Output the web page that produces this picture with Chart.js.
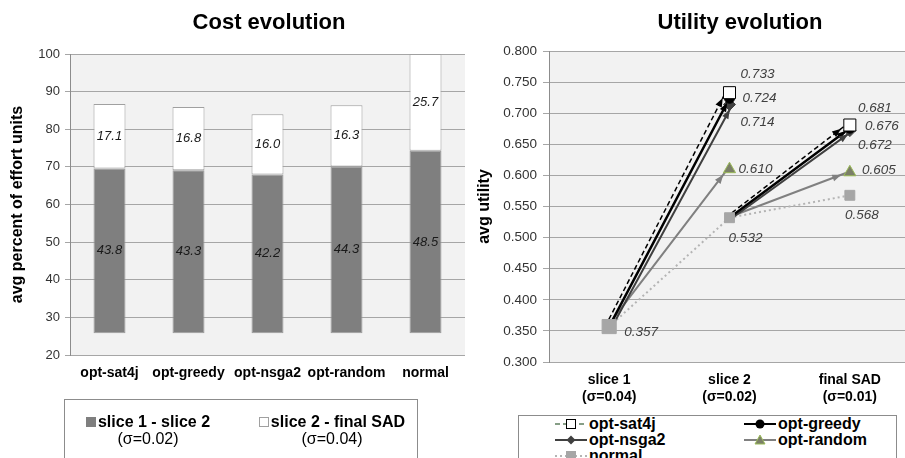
<!DOCTYPE html>
<html>
<head>
<meta charset="utf-8">
<script src="https://cdn.jsdelivr.net/npm/chart.js@4.4.1/dist/chart.umd.min.js"></script>
<style>
    html, body { margin: 0; padding: 0; background: #fff; }
    body { width: 905px; height: 458px; overflow: hidden; position: relative; font-family: "Liberation Sans", Arial, sans-serif; }
    #cost { position: absolute; left: 0; top: 0; }
    #utility { position: absolute; left: 468px; top: 0; }
    .legend { position: absolute; border: 1px solid #8c8c8c; background: #fff; box-sizing: border-box; }
    .cost-item { position: absolute; width: 190px; text-align: center; font-size: 16px; line-height: 17px; color: #000; }
    .cost-item b { white-space: nowrap; }
    .swatch { display: inline-block; width: 10px; height: 10px; margin-right: 2px; box-sizing: border-box; }
    .util-item { position: absolute; height: 16px; font-size: 16px; line-height: 16px; font-weight: bold; color: #000; white-space: nowrap; }
    .util-item svg { vertical-align: top; margin-right: 1px; }
</style>
</head>
<body>
<canvas id="cost" width="468" height="458"></canvas>
<canvas id="utility" width="453" height="458"></canvas>
<div class="legend" id="costLegend" style="left:64px;top:399px;width:354px;height:70px;"></div>
<div class="legend" id="utilityLegend" style="left:518px;top:415px;width:379px;height:60px;"></div>
<script>
// ---- cost chart data ----
const costCategories = ['opt-sat4j', 'opt-greedy', 'opt-nsga2', 'opt-random', 'normal'];
const costBase = 25.8;
const slice1ToSlice2 = [43.8, 43.3, 42.2, 44.3, 48.5];
const slice2ToFinal = [17.1, 16.8, 16.0, 16.3, 25.7];
const costSeries = ['slice 1 - slice 2', 'slice 2 - final SAD'];
const costSigma = ['(σ=0.02)', '(σ=0.04)'];

// ---- utility chart data ----
const utilityCategories = [['slice 1', '(σ=0.04)'], ['slice 2', '(σ=0.02)'], ['final SAD', '(σ=0.01)']];
const utilitySeries = ['opt-sat4j', 'opt-greedy', 'opt-nsga2', 'opt-random', 'normal'];
const utilitySlice1 = 0.357;
const utilitySlice2 = [0.733, 0.724, 0.714, 0.610, 0.532];
const utilityFinal = [0.681, 0.676, 0.672, 0.605, 0.568];

Chart.defaults.font.family = '"Liberation Sans", Arial, sans-serif';
Chart.defaults.color = '#333';

const gridColor = '#a6a6a6';

const plotBackground = {
    id: 'plotBackground',
    beforeDraw(chart, args, opts) {
        const { ctx, chartArea: a } = chart;
        ctx.save();
        ctx.fillStyle = opts.color;
        ctx.fillRect(a.left, a.top, a.width, a.height);
        ctx.restore();
    }
};

const panelTitle = {
    id: 'panelTitle',
    afterDraw(chart, args, opts) {
        const ctx = chart.ctx;
        ctx.save();
        ctx.font = 'bold 22px "Liberation Sans", Arial, sans-serif';
        ctx.fillStyle = '#000';
        ctx.textAlign = 'center';
        ctx.textBaseline = 'middle';
        ctx.fillText(opts.text, opts.x, opts.y);
        ctx.restore();
    }
};

const barValueLabels = {
    id: 'barValueLabels',
    afterDatasetsDraw(chart) {
        const ctx = chart.ctx;
        const values = [slice1ToSlice2, slice2ToFinal];
        ctx.save();
        ctx.font = 'italic 13px "Liberation Sans", Arial, sans-serif';
        ctx.fillStyle = '#1a1a1a';
        ctx.textAlign = 'center';
        ctx.textBaseline = 'middle';
        values.forEach((vals, di) => {
            chart.getDatasetMeta(di).data.forEach((bar, i) => {
                ctx.fillText(vals[i].toFixed(1), bar.x, (bar.y + bar.base) / 2);
            });
        });
        ctx.restore();
    }
};

new Chart(document.getElementById('cost'), {
    type: 'bar',
    data: {
        labels: costCategories,
        datasets: [
            {
                label: costSeries[0],
                data: costCategories.map((c, i) => [costBase, costBase + slice1ToSlice2[i]]),
                backgroundColor: '#7f7f7f',
                borderColor: '#9a9a9a',
                borderWidth: 1,
                borderSkipped: false,
                grouped: false,
                categoryPercentage: 0.405,
                barPercentage: 1
            },
            {
                label: costSeries[1],
                data: costCategories.map((c, i) => [costBase + slice1ToSlice2[i], costBase + slice1ToSlice2[i] + slice2ToFinal[i]]),
                backgroundColor: '#ffffff',
                borderColor: '#a0a0a0',
                borderWidth: 1,
                borderSkipped: false,
                grouped: false,
                categoryPercentage: 0.405,
                barPercentage: 1
            }
        ]
    },
    options: {
        responsive: false,
        animation: false,
        layout: { padding: { top: 54, bottom: 63, left: 0, right: 3 } },
        plugins: {
            legend: { display: false },
            tooltip: { enabled: false },
            plotBackground: { color: '#f2f2f2' },
            panelTitle: { text: 'Cost evolution', x: 269, y: 23 }
        },
        scales: {
            x: {
                grid: { display: false, drawTicks: false },
                border: { display: false },
                ticks: { color: '#000', font: { size: 14, weight: 'bold' }, padding: 10, autoSkip: false, maxRotation: 0 },
                afterFit: (s) => { s.height = 40; }
            },
            y: {
                min: 20,
                max: 100,
                ticks: { stepSize: 10, color: '#333', font: { size: 13 }, padding: 5 },
                grid: { color: gridColor, tickLength: 5 },
                border: { color: '#8c8c8c' },
                title: {
                    display: true,
                    text: 'avg percent of effort units',
                    color: '#000',
                    font: { size: 16, weight: 'bold' },
                    padding: { top: 8, bottom: 0 }
                },
                afterFit: (s) => { s.width = 70; }
            }
        }
    },
    plugins: [plotBackground, panelTitle, barValueLabels]
});

// ---- utility chart ----
// shift: small sideways pixel offset so the overlapping arrows stay readable, like in the original
const utilityStyles = [
    { color: '#000000', width: 1.5, dash: [5, 3], point: 'rect', radius: 8.5, fill: '#ffffff', border: '#000000', arrow: true, back: 6, shift: -4 },
    { color: '#000000', width: 2.5, dash: [], point: 'circle', radius: 5, fill: '#000000', border: '#000000', arrow: true, back: 5, shift: 0 },
    { color: '#404040', width: 2, dash: [], point: 'rectRot', radius: 6, fill: '#404040', border: '#404040', arrow: true, back: 6, shift: 3 },
    { color: '#808080', width: 2, dash: [], point: 'triangle', radius: 7, fill: '#7b7f68', border: '#9bbb59', arrow: true, back: 7, shift: -2 },
    { color: '#b4b4b4', width: 2, dash: [2, 3], point: 'rect', radius: 7, fill: '#a6a6a6', border: '#a6a6a6', arrow: false, back: 0, shift: 0 }
];
const slice2LabelOffsets = [[28, -18], [30, 0], [28, 18], [26, 0], [16, 21]];
const finalLabelOffsets = [[25, -17], [32, -2], [25, 15], [29, -2], [12, 20]];
const slice1LabelOffset = [32, 6];

const normalIndex = utilitySeries.indexOf('normal');

const seriesPoints = (i) => [
    { x: 0, y: utilitySlice1 },
    { x: 1, y: utilitySlice2[i] },
    { x: 1, y: null },
    { x: 1, y: utilitySlice2[normalIndex] },
    { x: 2, y: utilityFinal[i] }
];

// markers first (drawn on top), then the arrow lines
const markerDatasets = utilitySeries.map((name, i) => {
    const st = utilityStyles[i];
    return {
        label: name,
        data: seriesPoints(i),
        showLine: false,
        pointStyle: st.point,
        pointRadius: i === normalIndex ? [st.radius + 3, st.radius, 0, 0, st.radius] : [0, st.radius, 0, 0, st.radius],
        pointHoverRadius: 0,
        pointBackgroundColor: st.fill,
        pointBorderColor: st.border,
        pointBorderWidth: 1
    };
});
const lineDatasets = utilitySeries.map((name, i) => {
    const st = utilityStyles[i];
    return {
        label: name + ' line',
        data: seriesPoints(i),
        borderColor: st.color,
        borderWidth: st.width,
        borderDash: st.dash,
        tension: 0,
        spanGaps: false,
        pointRadius: 0,
        pointHoverRadius: 0,
        arrow: st.arrow,
        arrowBack: st.back,
        shift: st.shift
    };
});

const lineShift = {
    id: 'lineShift',
    beforeDatasetDraw(chart, args) {
        const ds = chart.data.datasets[args.index];
        if (ds.shift) {
            chart.ctx.save();
            chart.ctx.translate(ds.shift, 0);
        }
    },
    afterDatasetDraw(chart, args) {
        if (chart.data.datasets[args.index].shift) chart.ctx.restore();
    }
};

const arrowHeads = {
    id: 'arrowHeads',
    afterDatasetsDraw(chart) {
        const ctx = chart.ctx;
        chart.data.datasets.forEach((ds, di) => {
            if (!ds.arrow) return;
            const pts = chart.getDatasetMeta(di).data;
            const dx = ds.shift || 0;
            [[0, 1], [3, 4]].forEach(([a, b]) => {
                const p0 = pts[a], p1 = pts[b];
                const ang = Math.atan2(p1.y - p0.y, p1.x - p0.x);
                const c = Math.cos(ang), s = Math.sin(ang);
                const tx = p1.x + dx - c * ds.arrowBack, ty = p1.y - s * ds.arrowBack;
                const len = 9, half = 3.5;
                ctx.save();
                ctx.fillStyle = ds.borderColor;
                ctx.beginPath();
                ctx.moveTo(tx, ty);
                ctx.lineTo(tx - len * c + half * s, ty - len * s - half * c);
                ctx.lineTo(tx - len * c - half * s, ty - len * s + half * c);
                ctx.closePath();
                ctx.fill();
                ctx.restore();
            });
        });
    }
};

const utilityValueLabels = {
    id: 'utilityValueLabels',
    afterDatasetsDraw(chart) {
        const ctx = chart.ctx;
        const put = (pt, value, off) => ctx.fillText(value.toFixed(3), pt.x + off[0], pt.y + off[1]);
        ctx.save();
        ctx.font = 'italic 13.5px "Liberation Sans", Arial, sans-serif';
        ctx.fillStyle = '#404040';
        ctx.textAlign = 'center';
        ctx.textBaseline = 'middle';
        utilitySeries.forEach((name, i) => {
            const pts = chart.getDatasetMeta(i).data;
            put(pts[1], utilitySlice2[i], slice2LabelOffsets[i]);
            put(pts[4], utilityFinal[i], finalLabelOffsets[i]);
        });
        put(chart.getDatasetMeta(normalIndex).data[0], utilitySlice1, slice1LabelOffset);
        ctx.restore();
    }
};

new Chart(document.getElementById('utility'), {
    type: 'line',
    data: { datasets: [...markerDatasets, ...lineDatasets] },
    options: {
        responsive: false,
        animation: false,
        layout: { padding: { top: 51, bottom: 46, left: 0, right: 7.5 } },
        plugins: {
            legend: { display: false },
            tooltip: { enabled: false },
            plotBackground: { color: '#f2f2f2' },
            panelTitle: { text: 'Utility evolution', x: 272, y: 23 }
        },
        scales: {
            x: {
                type: 'linear',
                min: -0.5,
                max: 2.5,
                afterBuildTicks: (s) => { s.ticks = utilityCategories.map((c, i) => ({ value: i })); },
                ticks: {
                    color: '#000',
                    font: { size: 14, weight: 'bold' },
                    padding: 10,
                    autoSkip: false,
                    maxRotation: 0,
                    callback: (v) => utilityCategories[Math.round(v)]
                },
                grid: { display: false, drawTicks: false },
                border: { display: false },
                afterFit: (s) => { s.height = 50; }
            },
            y: {
                min: 0.3,
                max: 0.8,
                ticks: { stepSize: 0.05, color: '#333', font: { size: 13.5 }, padding: 6, callback: (v) => v.toFixed(3) },
                grid: { color: gridColor, tickLength: 6 },
                border: { color: '#8c8c8c' },
                title: {
                    display: true,
                    text: 'avg utility',
                    color: '#000',
                    font: { size: 16, weight: 'bold' },
                    padding: { top: 7, bottom: 0 }
                },
                afterFit: (s) => { s.width = 81; }
            }
        }
    },
    plugins: [plotBackground, panelTitle, lineShift, arrowHeads, utilityValueLabels]
});

// ---- html legends ----
const costLegend = document.getElementById('costLegend');
const costSwatches = [
    'background:#7f7f7f;',
    'background:#fff;border:1px solid #a0a0a0;'
];
const costLegendCenters = [83, 267];
costSeries.forEach((name, i) => {
    const item = document.createElement('div');
    item.className = 'cost-item';
    item.style.left = (costLegendCenters[i] - 95) + 'px';
    item.style.top = '13px';
    item.innerHTML = `<b><span class="swatch" style="${costSwatches[i]}"></span>${name}</b><br>${costSigma[i]}`;
    costLegend.appendChild(item);
});

function markerSvg(st) {
    const stroke = st.color === '#000000' && st.dash.length ? '#5f7f5f' : st.color;
    const dash = st.dash.length ? `stroke-dasharray="${st.dash.join(',')}"` : '';
    const line = `<line x1="1" y1="8" x2="33" y2="8" stroke="${stroke}" stroke-width="${Math.min(st.width, 2)}" ${dash}/>`;
    let mark = '';
    if (st.point === 'rect') {
        const sz = st.dash.length ? 9 : 10;
        mark = `<rect x="${17 - sz / 2}" y="${8 - sz / 2}" width="${sz}" height="${sz}" fill="${st.fill}" stroke="${st.border}" stroke-width="1"/>`;
    } else if (st.point === 'circle') {
        mark = `<circle cx="17" cy="8" r="4.5" fill="${st.fill}"/>`;
    } else if (st.point === 'rectRot') {
        mark = `<polygon points="17,3.5 21.5,8 17,12.5 12.5,8" fill="${st.fill}"/>`;
    } else if (st.point === 'triangle') {
        mark = `<polygon points="17,3 22,12 12,12" fill="${st.fill}" stroke="${st.border}" stroke-width="1"/>`;
    }
    return `<svg width="34" height="16" viewBox="0 0 34 16">${line}${mark}</svg>`;
}

const utilityLegend = document.getElementById('utilityLegend');
const legendColumns = [35, 224];
utilitySeries.forEach((name, i) => {
    const item = document.createElement('div');
    item.className = 'util-item';
    item.style.left = legendColumns[i % 2] + 'px';
    item.style.top = (Math.floor(i / 2) * 16) + 'px';
    item.innerHTML = markerSvg(utilityStyles[i]) + name;
    utilityLegend.appendChild(item);
});
</script>
</body>
</html>
